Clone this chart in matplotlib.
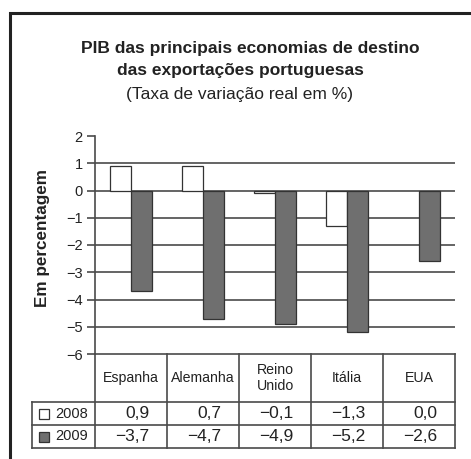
import matplotlib.pyplot as plt
from matplotlib.patches import Rectangle
import numpy as np

plt.rcParams['font.family'] = ['Liberation Sans', 'DejaVu Sans']

# categories and values
paises = ["Espanha", "Alemanha", "Reino\nUnido", "Itália", "EUA"]
pib_2008 = [0.9, 0.9, -0.1, -1.3, 0.0]   # bar heights as drawn
pib_2009 = [-3.7, -4.7, -4.9, -5.2, -2.6]
tab_2008 = ["0,9", "0,7", "\u22120,1", "\u22121,3", "0,0"]
tab_2009 = ["\u22123,7", "\u22124,7", "\u22124,9", "\u22125,2", "\u22122,6"]
yticks = [2, 1, 0, -1, -2, -3, -4, -5, -6]

W, H = 471, 459
fig = plt.figure(figsize=(W / 100, H / 100), dpi=100)

def fx(px):
    return px / W

def fy(py):
    return 1 - py / H

line_col = "#4a4a4a"
dark = "#6f6f6f"
txt = "#222222"

# outer frame (right and bottom edges lie outside the picture)
fig.patches.append(Rectangle((fx(10), fy(470)), 1.2, fy(13) - fy(470), transform=fig.transFigure,
                             fill=False, edgecolor="#222222", linewidth=2.2))

# titles
fig.text(fx(250), fy(48), "PIB das principais economias de destino", ha="center", va="center",
         fontsize=12.5, fontweight="bold", color=txt)
fig.text(fx(240), fy(71), "das exportações portuguesas", ha="center", va="center",
         fontsize=12.5, fontweight="bold", color=txt)
fig.text(fx(240), fy(94), "(Taxa de variação real em %)", ha="center", va="center",
         fontsize=12.5, color=txt)

# main bar axes
ax = fig.add_axes([fx(95), fy(354), fx(455) - fx(95), fy(136) - fy(354)])
ax.set_xlim(0, 5)
ax.set_ylim(-6, 2)
for s in ["top", "right", "bottom"]:
    ax.spines[s].set_visible(False)
ax.spines["left"].set_color(line_col)
ax.spines["left"].set_linewidth(1.2)
ax.set_xticks([])
ax.set_yticks(yticks)
ax.set_yticklabels([str(t).replace("-", "\u2212") for t in yticks], fontsize=10.5, color=txt)
ax.tick_params(axis="y", length=6, width=1.2, color=line_col, pad=3)
for t in yticks[1:-1]:
    ax.axhline(t, color=line_col, linewidth=1.2, zorder=1)
ax.patch.set_alpha(0)

x = np.arange(len(paises))
bw = 0.29
b08 = ax.bar(x + 0.354, pib_2008, width=bw, color="white", edgecolor="#333333", linewidth=0.9, zorder=3)
ax.bar(x + 0.646, pib_2009, width=bw, color=dark, edgecolor="#333333", linewidth=0.9, zorder=3)
for p in b08.patches:
    if p.get_height() == 0:
        p.set_visible(False)
ax.set_ylabel("Em percentagem", fontsize=12.3, fontweight="bold", color=txt)
ax.yaxis.set_label_coords(-0.125, 0.532)

# table
tx0 = -0.875
tb = fig.add_axes([fx(32), fy(448), fx(455) - fx(32), fy(354) - fy(448)])
tb.set_xlim(tx0, 5)
tb.set_ylim(448, 354)
tb.axis("off")
lw = 1.2
tb.plot([0, 5], [354, 354], color=line_col, lw=lw, clip_on=False)
for yy in [402, 425, 448]:
    tb.plot([tx0, 5], [yy, yy], color=line_col, lw=lw, clip_on=False)
tb.plot([tx0, tx0], [402, 448], color=line_col, lw=lw, clip_on=False)
for xx in range(6):
    tb.plot([xx, xx], [354, 448], color=line_col, lw=lw, clip_on=False)

for i, p in enumerate(paises):
    tb.text(i + 0.5, 378, p, ha="center", va="center", fontsize=10.2, color=txt,
            linespacing=1.1)
    tb.text(i + 1 - 18 / 72, 413.5, tab_2008[i], ha="right", va="center", fontsize=12.5, color=txt)
    tb.text(i + 1 - 18 / 72, 436.5, tab_2009[i], ha="right", va="center", fontsize=12.5, color=txt)

# legend cells
sq = 10
for yy, col, lab in [(413.5, "white", "2008"), (436.5, dark, "2009")]:
    tb.add_patch(Rectangle((tx0 + 7 / 72, yy + sq / 2), 10 / 72, -sq, facecolor=col,
                           edgecolor="#333333", linewidth=0.9, clip_on=False))
    tb.text(tx0 + 23 / 72, yy, lab, ha="left", va="center", fontsize=10.5, color=txt)

fig.savefig("out.png", dpi=100)
